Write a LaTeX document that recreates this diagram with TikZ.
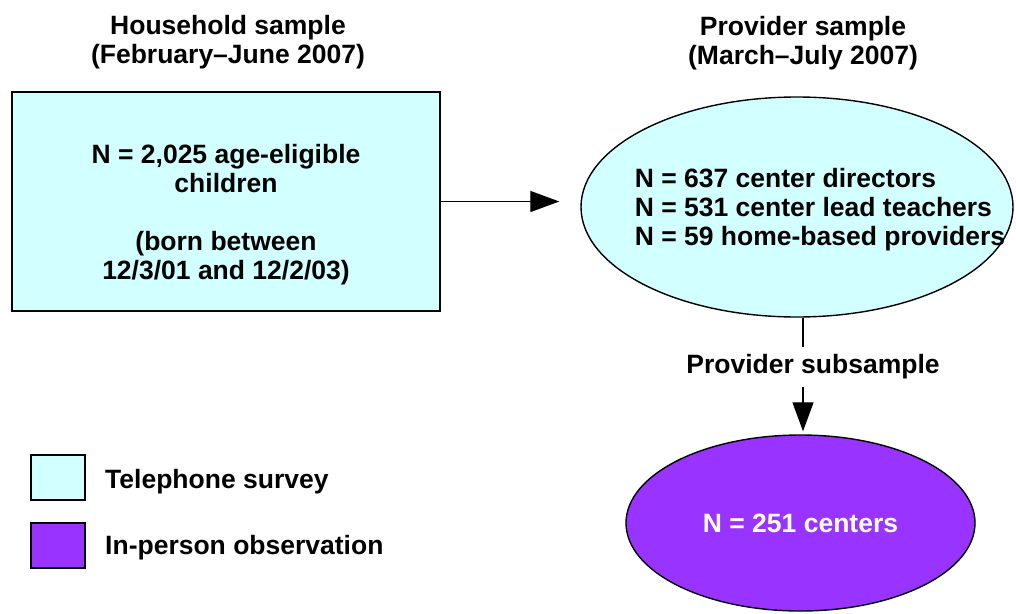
\documentclass[tikz,border=0pt]{standalone}
\usepackage{fontspec}
\setmainfont{Liberation Sans}
\usetikzlibrary{shapes.geometric,arrows.meta}
\definecolor{telcyan}{RGB}{210,255,255}
\definecolor{obspurple}{RGB}{153,51,255}
\begin{document}
\begin{tikzpicture}[x=1pt,y=-1pt,
  every node/.style={font=\fontsize{26.5}{29}\selectfont\bfseries, inner sep=0pt},
  txt/.style={align=center},
  telbox/.style={draw=black, line width=1.6pt, fill=telcyan, minimum width=428pt, minimum height=219pt},
  telell/.style={ellipse, draw=black, line width=1.4pt, fill=telcyan, minimum width=432pt, minimum height=220pt},
  obsell/.style={ellipse, draw=black, line width=1.4pt, fill=obspurple, minimum width=349pt, minimum height=176pt, text=white},
  legbox/.style={draw=black, line width=1.6pt, minimum width=54pt, minimum height=45pt},
  conn/.style={line width=1.3pt},
  arr/.style={line width=1.3pt, -{Triangle[length=29pt,width=21pt]}}
]
\useasboundingbox (0,0) rectangle (1016,613);
% titles
\node[txt] (htitle) at (228,42) {Household sample\\(February--June 2007)};
\node[txt] (ptitle) at (803,43) {Provider sample\\(March--July 2007)};
% household box
\node[telbox] (hh) at (226,201.5) {};
\node[txt] (hhtext) at (226,215) {N = 2,025 age-eligible\\children\\[29pt](born between\\12/3/01 and 12/2/03)};
% provider ellipse
\node[telell] (prov) at (797,207) {};
\node[align=left] (provtext) at (820,210) {N = 637 center directors\\N = 531 center lead teachers\\N = 59 home-based providers};
% subsample
\node[obsell] (sub) at (800.5,523) {N = 251 centers};
\node[minimum height=40pt] (sublabel) at (813,367) {Provider subsample};
% connectors
\draw[arr, shorten >=21pt] (hh.east) -- (hh.east -| prov.west);
\draw[conn] (prov.south -| 803,0) -- (803,347) coordinate (c1);
\draw[arr, shorten >=3pt] (803,387) coordinate (c2) -- (c2 |- sub.north);
% legend
\node[legbox, fill=telcyan] (leg1) at (58,477.5) {};
\node[anchor=west] (leg1t) at (105,482) {Telephone survey};
\node[legbox, fill=obspurple] (leg2) at (58,545.5) {};
\node[anchor=west] (leg2t) at (105,548) {In-person observation};
\end{tikzpicture}
\end{document}
